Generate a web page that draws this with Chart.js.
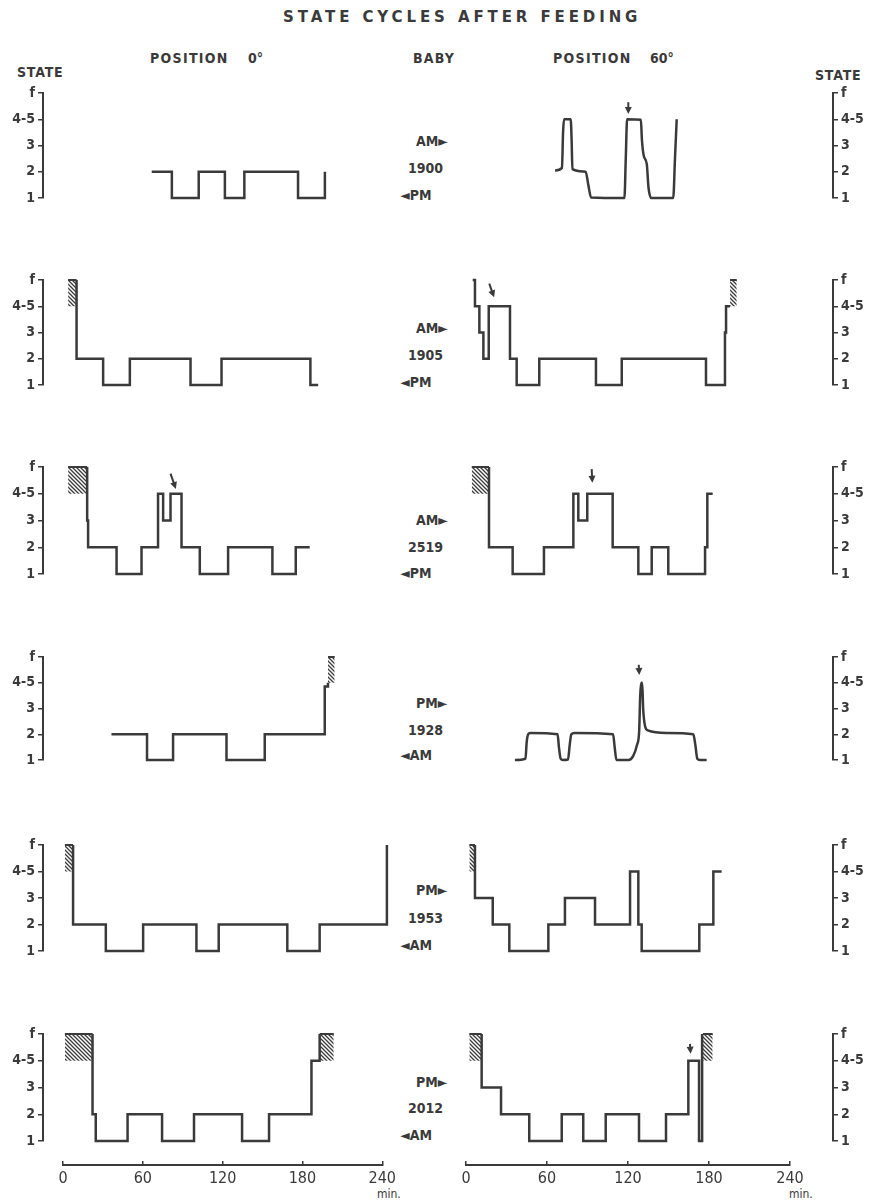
<!DOCTYPE html>
<html>
<head>
<meta charset="utf-8">
<script src="https://cdn.jsdelivr.net/npm/chart.js@4.4.0/dist/chart.umd.min.js"></script>
<style>
body { margin:0; background:#fff; width:869px; height:1201px; position:relative; overflow:hidden;
  font-family:'DejaVu Sans Condensed','DejaVu Sans',sans-serif; color:#3a3a3a; }
.t { position:absolute; white-space:nowrap; font-size:14px; line-height:16px; font-weight:bold; }
canvas { position:absolute; }
</style>
</head>
<body>
<div class="t" style="left:283px;top:9px;font-size:15px;letter-spacing:3.9px;font-family:'DejaVu Sans',sans-serif">STATE CYCLES AFTER FEEDING</div>
<div class="t" style="left:150px;top:50px;letter-spacing:1.3px">POSITION</div>
<div class="t" style="left:248px;top:50px">0°</div>
<div class="t" style="left:413px;top:50px;letter-spacing:1.2px">BABY</div>
<div class="t" style="left:553px;top:50px;letter-spacing:1.3px">POSITION</div>
<div class="t" style="left:650px;top:50px">60°</div>
<div class="t" style="left:17px;top:64px;letter-spacing:0.8px">STATE</div>
<div class="t" style="left:815px;top:67px;letter-spacing:0.8px">STATE</div>
<div class="t" style="left:377px;top:1186px;font-size:12px;font-weight:normal">min.</div>
<div class="t" style="left:789px;top:1186px;font-size:12px;font-weight:normal">min.</div>

<script>
// state cycles after feeding (minutes after feeding)
const stateLabels = ['1', '2', '3', '4-5', 'f'];
const minuteTicks = [0, 60, 120, 180, 240];
const babies = ['1900', '1905', '2519', '1928', '1953', '2012'];
const upperMarks = ['AM►', 'AM►', 'AM►', 'PM►', 'PM►', 'PM►'];
const lowerMarks = ['◄PM', '◄PM', '◄PM', '◄AM', '◄AM', '◄AM'];

// position 0 deg
const l1Times = [66, 81, 101, 120.5, 135, 175, 195];
const l1States = [2, 1, 2, 1, 2, 1, 2];

const l2Times = [10, 10, 29.8, 49.7, 94.9, 118, 184.2, 190];
const l2States = [5, 2, 1, 2, 1, 2, 1, 1];
const l2Hatch = [[3.7, 10]];

const l3Times = [17.9, 17.9, 18.6, 39.8, 58.4, 70.7, 74.5, 80, 88.2, 101.8, 122.9, 155.9, 173.3, 183.7];
const l3States = [5, 3, 2, 1, 2, 4, 3, 4, 2, 1, 2, 1, 2, 2];
const l3Hatch = [[3.7, 17.9]];
const l3Arrows = [[80, 4.75, 84, 4.18]];

const l4Times = [36, 62.5, 81.9, 121.7, 150.2, 194.9, 197.3];
const l4States = [2, 1, 2, 1, 2, 3.85, 4];
const l4Hatch = [[197.3, 202.3]];

const l5Times = [7.4, 7.4, 31.8, 59.6, 99.3, 115.9, 167, 191.1, 241.2];
const l5States = [5, 2, 1, 2, 1, 2, 1, 2, 5];
const l5Hatch = [[1.3, 7.4]];

const l6Times = [21.9, 21.9, 24.3, 48, 73.7, 97.5, 133.3, 153.4, 185, 191.1];
const l6States = [5, 2, 1, 2, 1, 2, 1, 2, 4, 5];
const l6Hatch = [[1.3, 21.9], [191.1, 201.6]];

// position 60 deg
const r1Times = [66.6, 71.8, 72.6, 73.3, 78.3, 79.0, 79.6, 89.5, 91.5, 93.5, 118.5, 119.5, 120.5, 130.8, 131.6, 133.0, 135.2, 136.5, 138.5, 155.0, 156.3, 157.6];
const r1States = [2.05, 2.15, 3.5, 4, 4, 3.2, 2.1, 2, 1.5, 1.02, 1, 2.5, 4, 3.98, 3.2, 2.6, 2.3, 1.4, 1, 1, 2.5, 4];
const r1Arrows = [[121.4, 4.65, 121.4, 4.2]];

const r2Times = [5, 6.7, 10, 13, 17, 32.9, 37.9, 54.8, 97.2, 116.5, 179.5, 193.7, 194.5, 197.5];
const r2States = [5, 4, 3, 2, 4, 2, 1, 2, 1, 2, 1, 3, 4, 4];
const r2Hatch = [[197.5, 202.5]];
const r2Arrows = [[17.4, 4.86, 21, 4.34]];

const r3Times = [17.2, 17.2, 34.9, 58.3, 80.3, 84, 90.7, 109.7, 128.9, 138.9, 151.3, 178.8, 180.5, 184.5];
const r3States = [5, 2, 1, 2, 4, 3, 4, 2, 1, 2, 1, 2, 4, 4];
const r3Hatch = [[4.3, 17.2]];
const r3Arrows = [[94, 4.92, 94.5, 4.41]];

const r4Times = [36.6, 44.5, 45.4, 46.5, 48, 68.5, 69.5, 70.8, 72.5, 76.3, 77.6, 78.8, 81, 110, 111.2, 112.5, 121.5, 125, 128, 129.5, 130.3, 131, 131.8, 132.5, 134, 136, 150, 170, 171.5, 173, 175, 180];
const r4States = [1, 1.05, 1.7, 2, 2.05, 2, 1.5, 1.05, 1, 1.02, 1.6, 2, 2.05, 2, 1.5, 1, 1, 1.15, 1.6, 2.1, 3.5, 4, 4, 3, 2.3, 2.15, 2.05, 2, 1.6, 1.05, 1, 1];
const r4Arrows = [[129.2, 4.7, 129.6, 4.3]];

const r5Times = [6.7, 6.7, 20, 32.4, 61.6, 74, 96.5, 122.7, 128.9, 131.4, 174.5, 185, 191.2];
const r5States = [5, 3, 2, 1, 2, 3, 2, 4, 2, 1, 2, 4, 4];
const r5Hatch = [[2.5, 6.7]];

const r6Times = [11.7, 11.7, 26.2, 47.3, 71.6, 87.7, 104.5, 129.4, 149.6, 166.3, 174.3, 176.6];
const r6States = [5, 3, 2, 1, 2, 1, 2, 1, 2, 4, 1, 5];
const r6Hatch = [[2.5, 11.7], [177.2, 184.5]];
const r6Arrows = [[167.5, 4.63, 168, 4.26]];

const leftPanels = [
  { times: l1Times, states: l1States, hatch: [], arrows: [] },
  { times: l2Times, states: l2States, hatch: l2Hatch, arrows: [] },
  { times: l3Times, states: l3States, hatch: l3Hatch, arrows: l3Arrows },
  { times: l4Times, states: l4States, hatch: l4Hatch, arrows: [] },
  { times: l5Times, states: l5States, hatch: l5Hatch, arrows: [] },
  { times: l6Times, states: l6States, hatch: l6Hatch, arrows: [] }
];
const rightPanels = [
  { times: r1Times, states: r1States, hatch: [], arrows: r1Arrows, smooth: true },
  { times: r2Times, states: r2States, hatch: r2Hatch, arrows: r2Arrows },
  { times: r3Times, states: r3States, hatch: r3Hatch, arrows: r3Arrows },
  { times: r4Times, states: r4States, hatch: [], arrows: r4Arrows, smooth: true },
  { times: r5Times, states: r5States, hatch: r5Hatch, arrows: [] },
  { times: r6Times, states: r6States, hatch: r6Hatch, arrows: r6Arrows }
];

// page layout (pixel rows of state f and state 1)
const rowsY = [[93, 198], [280, 385], [467, 574], [657, 760], [845, 951], [1034, 1141]];
const labelY = [[133, 160, 187], [320, 347, 374], [512, 539, 565], [695, 722, 747], [882, 910, 937], [1074, 1100, 1127]];

const ink = '#3a3a3a';
const fontFam = "'DejaVu Sans Condensed', 'DejaVu Sans', sans-serif";

function makeHatch() {
  const c = document.createElement('canvas');
  c.width = 4; c.height = 4;
  const g = c.getContext('2d');
  g.strokeStyle = ink; g.lineWidth = 1.3;
  g.beginPath();
  g.moveTo(0, 0); g.lineTo(4, 4);
  g.moveTo(-1, 3); g.lineTo(1, 5);
  g.moveTo(3, -1); g.lineTo(5, 1);
  g.stroke();
  return g.createPattern(c, 'repeat');
}
const pattern = makeHatch();

function addCanvas(left, top, w, h) {
  const c = document.createElement('canvas');
  c.width = w; c.height = h;
  c.style.left = left + 'px'; c.style.top = top + 'px';
  c.style.width = w + 'px'; c.style.height = h + 'px';
  document.body.appendChild(c);
  return c;
}

function addText(txt, left, top) {
  const d = document.createElement('div');
  d.className = 't';
  d.style.left = left + 'px'; d.style.top = top + 'px';
  d.textContent = txt;
  document.body.appendChild(d);
}

function arrowPlugin(list) {
  return {
    id: 'arrowMarks',
    afterDatasetsDraw(chart) {
      const xs = chart.scales.x, ys = chart.scales.y, ctx = chart.ctx;
      ctx.save();
      ctx.strokeStyle = ink; ctx.fillStyle = ink; ctx.lineWidth = 2;
      list.forEach(a => {
        const x1 = xs.getPixelForValue(a[0]), y1 = ys.getPixelForValue(a[1]);
        const x2 = xs.getPixelForValue(a[2]), y2 = ys.getPixelForValue(a[3]);
        const ang = Math.atan2(y2 - y1, x2 - x1);
        ctx.beginPath(); ctx.moveTo(x1, y1); ctx.lineTo(x2 - 4 * Math.cos(ang), y2 - 4 * Math.sin(ang)); ctx.stroke();
        ctx.beginPath();
        ctx.moveTo(x2, y2);
        ctx.lineTo(x2 - 7 * Math.cos(ang) + 3.5 * Math.sin(ang), y2 - 7 * Math.sin(ang) - 3.5 * Math.cos(ang));
        ctx.lineTo(x2 - 7 * Math.cos(ang) - 3.5 * Math.sin(ang), y2 - 7 * Math.sin(ang) + 3.5 * Math.cos(ang));
        ctx.closePath(); ctx.fill();
      });
      ctx.restore();
    }
  };
}

function drawPanel(side, row, p) {
  const isL = side === 'L';
  const yTop = rowsY[row][0], yBot = rowsY[row][1];
  const pad = 12;
  const canvas = addCanvas(isL ? 0 : 456, yTop - pad, isL ? 400 : 413, yBot - yTop + 2 * pad);
  const datasets = [];
  p.hatch.forEach(h => datasets.push({
    data: [{ x: h[0], y: 5 }, { x: h[1], y: 5 }],
    borderColor: ink, borderWidth: 2, backgroundColor: pattern,
    fill: { value: 4 }, pointRadius: 0, clip: 8
  }));
  datasets.push({
    data: p.times.map((t, i) => ({ x: t, y: p.states[i] })),
    borderColor: ink, borderWidth: 2.5, fill: false, pointRadius: 0,
    stepped: p.smooth ? false : 'before',
    cubicInterpolationMode: p.smooth ? 'monotone' : 'default',
    borderJoinStyle: 'miter', clip: 8
  });
  new Chart(canvas, {
    type: 'line',
    data: { datasets },
    options: {
      responsive: false, animation: false, devicePixelRatio: 1,
      layout: { padding: isL ? { left: 0, right: 8, top: pad, bottom: pad } : { left: 10, right: 0, top: pad, bottom: pad } },
      plugins: { legend: { display: false }, tooltip: { enabled: false } },
      scales: {
        x: { type: 'linear', min: isL ? -15 : 0, max: isL ? 245 : 274.5, display: false },
        y: {
          type: 'linear', min: 1, max: 5, position: isL ? 'left' : 'right',
          afterFit: s => { s.width = isL ? 43 : 36; },
          ticks: { stepSize: 1, color: ink, padding: 3, font: { family: fontFam, size: 14, weight: 'bold' },
                   callback: v => stateLabels[v - 1] },
          grid: { drawOnChartArea: false, drawTicks: true, tickLength: 5, color: ink, lineWidth: 1.5 },
          border: { display: true, color: ink, width: 2 }
        }
      }
    },
    plugins: [arrowPlugin(p.arrows)]
  });
}

function drawMinuteAxis(side) {
  const isL = side === 'L';
  const left = isL ? 0 : 456, w = isL ? 400 : 413;
  const areaL = isL ? 63 : 466, areaR = isL ? 385.5 : 790;
  const canvas = addCanvas(left, 1161, w, 40);
  new Chart(canvas, {
    type: 'line',
    data: { datasets: [] },
    options: {
      responsive: false, animation: false, devicePixelRatio: 1,
      layout: { padding: { left: areaL - left, right: left + w - areaR, top: 0, bottom: 0 } },
      plugins: { legend: { display: false }, tooltip: { enabled: false } },
      scales: {
        x: {
          type: 'linear', min: 0, max: 240,
          afterFit: s => { s.height = 36; },
          afterBuildTicks: s => { s.ticks = minuteTicks.map(v => ({ value: v })); },
          ticks: { color: ink, padding: 4, autoSkip: false, maxRotation: 0, font: { family: fontFam, size: 16 } },
          grid: { drawOnChartArea: true, drawTicks: false, color: ink, lineWidth: 1.5 },
          border: { display: true, color: ink, width: 2 }
        },
        y: { display: false, min: 0, max: 1 }
      }
    }
  });
}

for (let r = 0; r < 6; r++) {
  drawPanel('L', r, leftPanels[r]);
  drawPanel('R', r, rightPanels[r]);
  addText(upperMarks[r], 416, labelY[r][0]);
  addText(babies[r], 408, labelY[r][1]);
  addText(lowerMarks[r], 400, labelY[r][2]);
}
drawMinuteAxis('L');
drawMinuteAxis('R');
</script>
</body>
</html>
